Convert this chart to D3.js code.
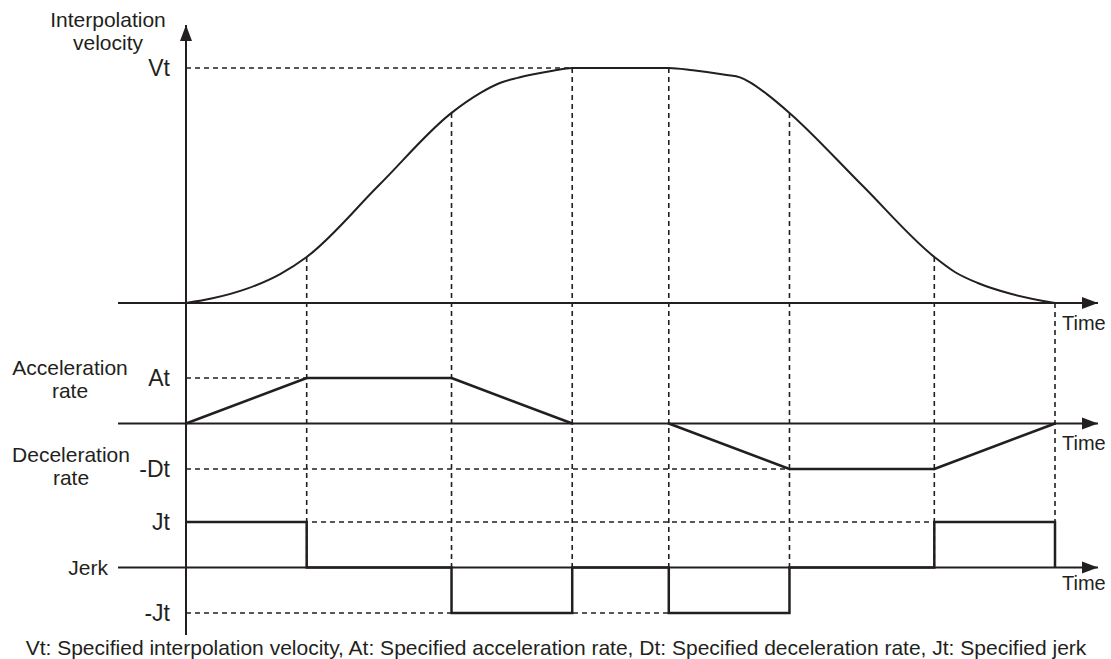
<!DOCTYPE html>
<html>
<head>
<meta charset="utf-8">
<script src="https://cdn.jsdelivr.net/npm/d3@7"></script>
<style>
    body { margin: 0; background: #fff; }
    text { font-family: "Liberation Sans", Arial, sans-serif; fill: #231f20; }
</style>
</head>
<body>
<svg id="drawing_region"></svg>
<script>
// breakpoints of the motion profile (time units)
const phaseTimes = [0, 1, 2.2, 3.2, 4, 5, 6.2, 7.2];

// interpolation velocity, % of Vt
const velocityTimes = [0, 0.22, 0.5, 0.78, 1, 1.6, 2.2, 2.44, 2.6, 2.74, 2.88, 3.04, 3.2,
                       4, 4.2, 4.48, 4.59, 4.67, 4.81, 5, 5.6, 6.2, 6.37, 6.56, 6.84, 7.2];
const velocityValues = [0, 2.0, 6, 12.3, 19.6, 50.2, 80.9, 89.4, 93.6, 95.7, 97.3, 98.8, 100,
                        100, 99.0, 97, 96.0, 94.0, 89.0, 80.9, 50.2, 19.6, 13.2, 8.5, 3.8, 0];

// acceleration at the breakpoints (At = 1, -Dt = -1)
const accelValues = [0, 1, 1, 0, 0, -1, -1, 0];

// jerk held from each breakpoint to the next (Jt = 1, -Jt = -1)
const jerkValues = [1, 0, -1, 0, -1, 0, 1, 0];

// tick labels and how far (in time) each dashed guide reaches
const velocityTickValues = [100];
const velocityTickLabels = ["Vt"];
const velocityGuideEnds = [3.2];
const accelTickValues = [1, -1];
const accelTickLabels = ["At", "-Dt"];
const accelGuideEnds = [1, 5];
const jerkTickValues = [1, -1];
const jerkTickLabels = ["Jt", "-Jt"];
const jerkGuideEnds = [6.2, 4];

const caption = "Vt: Specified interpolation velocity, At: Specified acceleration rate, Dt: Specified deceleration rate, Jt: Specified jerk";

const config = {
    parent: "#drawing_region",
    width: 1111,
    height: 659
};
const ink = "#231f20";

const svg = d3.select(config.parent)
    .attr("width", config.width)
    .attr("height", config.height);

svg.append("defs").append("marker")
    .attr("id", "arrow")
    .attr("markerUnits", "userSpaceOnUse")
    .attr("markerWidth", 18)
    .attr("markerHeight", 14)
    .attr("viewBox", "0 -7 18 14")
    .attr("refX", 16)
    .attr("refY", 0)
    .attr("orient", "auto")
    .append("path")
    .attr("d", "M0,-6L16,0L0,6Z")
    .attr("fill", ink);

const x = d3.scaleLinear().domain([0, 7.2]).range([186, 1055]);
const yV = d3.scaleLinear().domain([0, 100]).range([303, 68]);
const yA = d3.scaleLinear().domain([-1, 1]).range([469, 378]);
const yJ = d3.scaleLinear().domain([-1, 1]).range([613, 522]);

const dash = "5,4";

// vertical dashed guides at every breakpoint, from the velocity curve down to the jerk axis
const guides = svg.append("g");
phaseTimes.slice(1).forEach(t => {
    const i = velocityTimes.indexOf(t);
    guides.append("line")
        .attr("x1", x(t)).attr("x2", x(t))
        .attr("y1", yV(velocityValues[i])).attr("y2", yJ(0))
        .attr("stroke", ink).attr("stroke-width", 1.6)
        .attr("stroke-dasharray", dash);
});

// horizontal dashed guides from the tick levels
function hGuides(scale, values, ends) {
    values.forEach((v, i) => {
        guides.append("line")
            .attr("x1", x(0)).attr("x2", x(ends[i]))
            .attr("y1", scale(v)).attr("y2", scale(v))
            .attr("stroke", ink).attr("stroke-width", 1.6)
            .attr("stroke-dasharray", dash);
    });
}
hGuides(yV, velocityTickValues, velocityGuideEnds);
hGuides(yA, accelTickValues, accelGuideEnds);
hGuides(yJ, jerkTickValues, jerkGuideEnds);

// axes
const axes = svg.append("g");
[yV, yA, yJ].forEach(s => {
    axes.append("line")
        .attr("x1", 118).attr("x2", 1098)
        .attr("y1", s(0)).attr("y2", s(0))
        .attr("stroke", ink).attr("stroke-width", 2)
        .attr("marker-end", "url(#arrow)");
});
axes.append("line")
    .attr("x1", x(0)).attr("x2", x(0))
    .attr("y1", 635).attr("y2", 25)
    .attr("stroke", ink).attr("stroke-width", 2)
    .attr("marker-end", "url(#arrow)");

function tickAxis(scale, values, labels) {
    const g = svg.append("g")
        .attr("transform", `translate(${x(0)},0)`)
        .call(d3.axisLeft(scale)
            .tickValues(values)
            .tickFormat((d, i) => labels[i])
            .tickSize(0)
            .tickPadding(16));
    g.select(".domain").remove();
    g.selectAll("text")
        .attr("font-size", "23px")
        .attr("font-family", "Liberation Sans, Arial, sans-serif")
        .attr("fill", ink);
}
tickAxis(yV, velocityTickValues, velocityTickLabels);
tickAxis(yA, accelTickValues, accelTickLabels);
tickAxis(yJ, jerkTickValues, jerkTickLabels);

// curves
const velocityLine = d3.line()
    .x((d, i) => x(velocityTimes[i]))
    .y(d => yV(d))
    .curve(d3.curveMonotoneX);
svg.append("path")
    .datum(velocityValues)
    .attr("d", velocityLine)
    .attr("fill", "none").attr("stroke", ink).attr("stroke-width", 2);

// acceleration ramps (segments lying on the axis are left to the axis)
const accelPoints = accelValues.map((v, i) => [phaseTimes[i], v]);
d3.pairs(accelPoints)
    .filter(([a, b]) => a[1] !== 0 || b[1] !== 0)
    .forEach(([a, b]) => {
        svg.append("line")
            .attr("x1", x(a[0])).attr("y1", yA(a[1]))
            .attr("x2", x(b[0])).attr("y2", yA(b[1]))
            .attr("stroke", ink).attr("stroke-width", 2.6)
            .attr("stroke-linecap", "round");
    });

const jerkLine = d3.line()
    .x((d, i) => x(phaseTimes[i]))
    .y(d => yJ(d))
    .curve(d3.curveStepAfter);
svg.append("path")
    .datum(jerkValues)
    .attr("d", jerkLine)
    .attr("fill", "none").attr("stroke", ink).attr("stroke-width", 2.5);

// titles
const labels = svg.append("g").attr("font-size", "21px");
function label(lines, cx, y0, anchor) {
    lines.forEach((s, i) => {
        labels.append("text")
            .attr("x", cx).attr("y", y0 + i * 22.5)
            .attr("text-anchor", anchor || "middle")
            .text(s);
    });
}
label(["Interpolation", "velocity"], 108, 27);
label(["Acceleration", "rate"], 70, 375);
label(["Deceleration", "rate"], 71, 462);
label(["Jerk"], 108, 575, "end");

[330, 450, 590].forEach(y => {
    svg.append("text")
        .attr("x", 1062).attr("y", y)
        .attr("font-size", "20px")
        .text("Time");
});

svg.append("text")
    .attr("x", 556).attr("y", 655)
    .attr("text-anchor", "middle")
    .attr("font-size", "21px")
    .text(caption);
</script>
</body>
</html>
